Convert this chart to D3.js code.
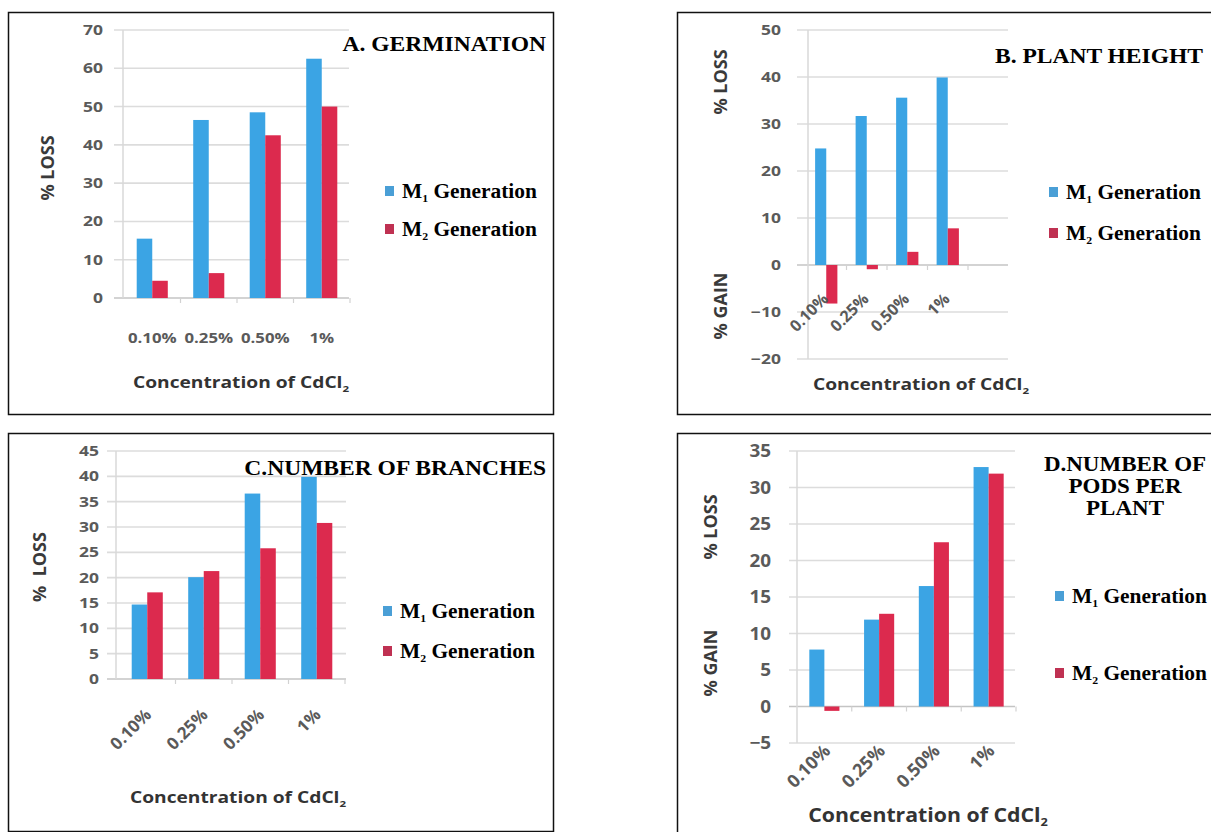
<!DOCTYPE html>
<html>
<head>
<meta charset="utf-8">
<script src="https://cdn.jsdelivr.net/npm/d3@7"></script>
<style>
  body { margin: 0; background: #fff; }
  svg { display: block; }
</style>
</head>
<body>
<div id="chart"></div>
<script>
// categories and series values
const categories = ["0.10%", "0.25%", "0.50%", "1%"];
const seriesLabels = ["1", "2"];   // M1 / M2 generation subscripts

const germinationM1 = [15.5, 46.5, 48.5, 62.5];
const germinationM2 = [4.5, 6.5, 42.5, 50];
const heightM1 = [24.8, 31.7, 35.6, 39.9];
const heightM2 = [-8.2, -0.9, 2.8, 7.8];
const branchesM1 = [14.7, 20.1, 36.6, 39.9];
const branchesM2 = [17.1, 21.3, 25.8, 30.8];
const podsM1 = [7.8, 11.9, 16.5, 32.8];
const podsM2 = [-0.6, 12.7, 22.5, 31.9];

// tick labels
const ticksA = [0, 10, 20, 30, 40, 50, 60, 70];
const ticksB = [-20, -10, 0, 10, 20, 30, 40, 50];
const ticksC = [0, 5, 10, 15, 20, 25, 30, 35, 40, 45];
const ticksD = [-5, 0, 5, 10, 15, 20, 25, 30, 35];

const blue = "#3ba4e4";
const red = "#dc2a4e";
const legendColors = ["#4a9fd6", "#bf3152"];
const sansFont = "'Open Sans', sans-serif";
const serifFont = "'Liberation Serif', 'Times New Roman', serif";

const width = 1211;
const height = 832;

const svg = d3.select("#chart")
  .append("svg")
  .attr("width", width)
  .attr("height", height);

// layout for each panel
const panels = [
  {
    m1: germinationM1, m2: germinationM2, ticks: ticksA,
    box: [8, 12, 545, 402],
    yRange: [298, 30], xRange: [124, 350], grid: [114, 349], axisX: 123,
    labelX: 103, tickFont: 14, tickSx: 1.25, rotate: false, catY: 338, catFont: 14,
    title: ["A. GERMINATION"], titleAnchor: "end", titleX: 546, titleY: 51, titleSize: 22,
    yTitles: [["% LOSS", 48, 168]],
    xTitle: [241, 388, 16, 1.2],
    legend: [385, 198, 236]
  },
  {
    m1: heightM1, m2: heightM2, ticks: ticksB,
    box: [677, 12, 560, 402],
    yRange: [359, 30], xRange: [806, 968], grid: [797, 1008], axisX: 808,
    labelX: 781, tickFont: 14, tickSx: 1.25, rotate: true, catAt: 0, catDx: 3, catDy: 35, catFont: 16,
    title: ["B. PLANT HEIGHT"], titleAnchor: "end", titleX: 1203, titleY: 63, titleSize: 22,
    yTitles: [["% LOSS", 721, 82], ["% GAIN", 721, 306]],
    xTitle: [921, 390, 16, 1.2],
    legend: [1049, 199, 240]
  },
  {
    m1: branchesM1, m2: branchesM2, ticks: ticksC,
    box: [8, 433, 545, 398],
    yRange: [679, 451], xRange: [119, 345], grid: [107, 346], axisX: 116,
    labelX: 99, tickFont: 14, tickSx: 1.25, rotate: true, catAt: 0, catDx: 5, catDy: 37, catFont: 17,
    title: ["C.NUMBER OF BRANCHES"], titleAnchor: "end", titleX: 546, titleY: 475, titleSize: 22,
    yTitles: [["%  LOSS", 40, 567]],
    xTitle: [238, 803, 16, 1.2],
    legend: [383, 618, 658]
  },
  {
    m1: podsM1, m2: podsM2, ticks: ticksD,
    box: [677, 433, 560, 420],
    yRange: [743, 451], xRange: [797, 1016], grid: [789, 1015], axisX: 797,
    labelX: 771, tickFont: 18, tickSx: 1.05, rotate: true, catAt: -5, catDx: 7, catDy: 9, catFont: 18,
    title: ["D.NUMBER OF", "PODS PER", "PLANT"], titleAnchor: "middle", titleX: 1125, titleY: 471, titleSize: 20,
    yTitles: [["% LOSS", 711, 527], ["% GAIN", 711, 663]],
    xTitle: [928, 822, 19, 1.12],
    legend: [1055, 603, 680]
  }
];

panels.forEach(drawPanel);

// text squeezed or stretched horizontally around its anchor point
function stretchText(parent, x, y, sx) {
  return parent.append("g")
    .attr("transform", `translate(${x},${y}) scale(${sx},1)`)
    .append("text");
}

function drawPanel(p) {
  const g = svg.append("g");

  // outer frame
  g.append("rect")
    .attr("x", p.box[0] + 0.5)
    .attr("y", p.box[1] + 0.5)
    .attr("width", p.box[2])
    .attr("height", p.box[3])
    .attr("fill", "none")
    .attr("stroke", "#111")
    .attr("stroke-width", 1.5);

  const y = d3.scaleLinear()
    .domain([p.ticks[0], p.ticks[p.ticks.length - 1]])
    .range(p.yRange);

  const x = d3.scaleBand()
    .domain(categories)
    .range(p.xRange)
    .paddingInner(0.45)
    .paddingOuter(0.225);

  const x1 = d3.scaleBand()
    .domain(seriesLabels)
    .range([0, x.bandwidth()]);

  // gridlines
  g.selectAll(".grid")
    .data(p.ticks)
    .enter().append("line")
    .attr("x1", p.grid[0])
    .attr("x2", p.grid[1])
    .attr("y1", d => y(d))
    .attr("y2", d => y(d))
    .attr("stroke", d => d === 0 ? "#c4c4c4" : "#dcdcdc")
    .attr("stroke-width", 1.6);

  // vertical axis line
  g.append("line")
    .attr("x1", p.axisX)
    .attr("x2", p.axisX)
    .attr("y1", p.yRange[0])
    .attr("y2", p.yRange[1])
    .attr("stroke", "#d8d8d8")
    .attr("stroke-width", 1.5);

  // small ticks between categories on the zero line
  g.selectAll(".cat-tick")
    .data(d3.range(1, categories.length + 1))
    .enter().append("line")
    .attr("x1", i => x.range()[0] + i * x.step())
    .attr("x2", i => x.range()[0] + i * x.step())
    .attr("y1", y(0))
    .attr("y2", y(0) + 5)
    .attr("stroke", "#d2d2d2")
    .attr("stroke-width", 1.2);

  // y axis labels
  const yAxis = d3.axisLeft(y)
    .tickValues(p.ticks)
    .tickSize(0)
    .tickPadding(0);

  g.append("g")
    .attr("transform", `translate(${p.labelX},0)`)
    .call(yAxis)
    .call(a => a.select(".domain").remove())
    .selectAll("text")
    .attr("font-family", sansFont)
    .attr("font-weight", 700)
    .attr("font-size", p.tickFont)
    .attr("fill", "#5a5a5a")
    .attr("transform", `scale(${p.tickSx},1)`);

  // bars
  const rows = categories.map((c, i) => ({ cat: c, vals: [p.m1[i], p.m2[i]] }));
  const grp = g.selectAll(".grp")
    .data(rows)
    .enter().append("g")
    .attr("transform", d => `translate(${x(d.cat)},0)`);

  grp.selectAll("rect")
    .data(d => d.vals.map((v, k) => ({ k: seriesLabels[k], v: v })))
    .enter().append("rect")
    .attr("x", d => x1(d.k))
    .attr("width", x1.bandwidth())
    .attr("y", d => y(Math.max(0, d.v)))
    .attr("height", d => Math.abs(y(d.v) - y(0)))
    .attr("fill", d => d.k === "1" ? blue : red);

  // category labels
  const xAxis = d3.axisBottom(x).tickSize(0).tickPadding(0);
  const xg = g.append("g")
    .attr("transform", `translate(0,${p.rotate ? y(p.catAt) : 0})`)
    .call(xAxis)
    .call(a => a.select(".domain").remove());

  xg.selectAll("text")
    .attr("font-family", sansFont)
    .attr("font-weight", 700)
    .attr("font-size", p.catFont)
    .attr("fill", "#5a5a5a");

  if (p.rotate) {
    xg.selectAll("text")
      .attr("text-anchor", "end")
      .attr("dy", 0)
      .attr("y", 0)
      .attr("transform", `translate(${p.catDx},${p.catDy}) rotate(-45)`);
  } else {
    xg.selectAll("text")
      .attr("y", p.catY)
      .attr("dy", "0.35em")
      .attr("transform", "scale(1.2,1)");
  }

  // axis titles
  p.yTitles.forEach(t => {
    g.append("text")
      .attr("transform", `translate(${t[1]},${t[2]}) rotate(-90)`)
      .attr("text-anchor", "middle")
      .attr("dy", "0.35em")
      .attr("font-family", sansFont)
      .attr("font-weight", 700)
      .attr("font-size", 18)
      .attr("fill", "#3a3a3a")
      .style("white-space", "pre")
      .text(t[0]);
  });

  const xt = stretchText(g, p.xTitle[0], p.xTitle[1], p.xTitle[3])
    .attr("text-anchor", "middle")
    .attr("font-family", sansFont)
    .attr("font-weight", 700)
    .attr("font-size", p.xTitle[2])
    .attr("fill", "#333");
  xt.append("tspan").text("Concentration of CdCl");
  xt.append("tspan").attr("font-size", p.xTitle[2] * 0.6).attr("dy", 4).text("2");

  // panel title
  p.title.forEach((line, i) => {
    stretchText(g, p.titleX, p.titleY + i * 22, p.titleSize === 22 ? 1.07 : 1.15)
      .attr("text-anchor", p.titleAnchor)
      .attr("font-family", serifFont)
      .attr("font-weight", 700)
      .attr("font-size", p.titleSize)
      .attr("fill", "#000")
      .text(line);
  });

  // legend
  seriesLabels.forEach((s, k) => {
    const ly = p.legend[k + 1];
    g.append("rect")
      .attr("x", p.legend[0])
      .attr("y", ly - 12)
      .attr("width", 9)
      .attr("height", 10)
      .attr("fill", legendColors[k]);
    const t = stretchText(g, p.legend[0] + 17, ly, 1.07)
      .attr("font-family", serifFont)
      .attr("font-weight", 700)
      .attr("font-size", 20)
      .attr("fill", "#000");
    t.append("tspan").text("M");
    t.append("tspan").attr("font-size", 11).attr("dy", 4).text(s);
    t.append("tspan").attr("dy", -4).text(" Generation");
  });
}
</script>
</body>
</html>
